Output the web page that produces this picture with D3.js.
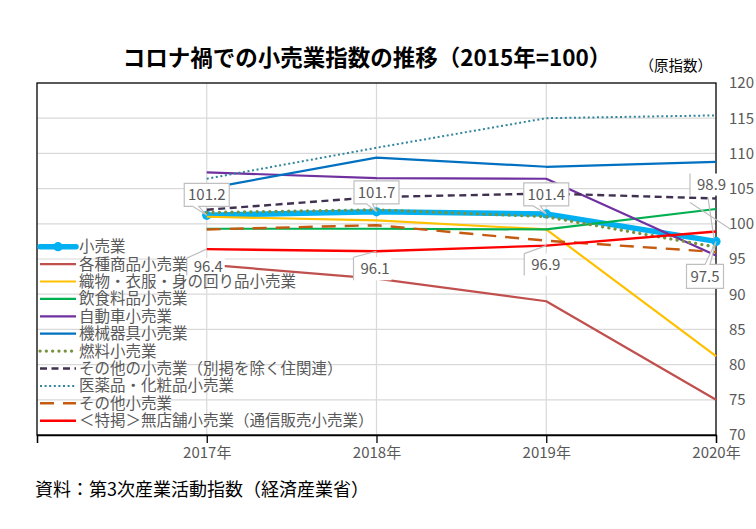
<!DOCTYPE html>
<html><head><meta charset="utf-8">
<script src="https://cdn.jsdelivr.net/npm/d3@7"></script>
<style>
body{margin:0;background:#fff}
svg{display:block}
text{font-family:"Noto Sans CJK JP","Noto Sans",sans-serif}
</style>
</head><body><svg id="c" width="756" height="529"></svg>
<script>
// ---------- data ----------
const years = [2017, 2018, 2019, 2020];
const xTickLabels = ["2017年", "2018年", "2019年", "2020年"];
const yTicks = [70, 75, 80, 85, 90, 95, 100, 105, 110, 115, 120];
const seriesNames = [
  "小売業", "各種商品小売業", "織物・衣服・身の回り品小売業", "飲食料品小売業",
  "自動車小売業", "機械器具小売業", "燃料小売業", "その他の小売業（別掲を除く住関連）",
  "医薬品・化粧品小売業", "その他小売業", "＜特掲＞無店舗小売業（通信販売小売業）"
];
const retail      = [101.2, 101.7, 101.4, 97.5];
const general     = [94.2, 92.2, 89.0, 75.0];
const textile     = [101.0, 100.5, 99.2, 81.2];
const food        = [99.3, 99.3, 99.2, 102.1];
const auto        = [107.3, 106.5, 106.4, 95.5];
const machinery   = [105.0, 109.4, 108.1, 108.8];
const fuel        = [101.6, 102.0, 101.0, 96.7];
const otherHome   = [102.0, 103.8, 104.3, 103.6];
const pharma      = [106.4, 110.8, 115.0, 115.4];
const otherRetail = [99.2, 99.8, 97.6, 96.0];
const nonStore    = [96.4, 96.1, 96.9, 98.9];
const seriesValues = [retail, general, textile, food, auto, machinery, fuel, otherHome, pharma, otherRetail, nonStore];

// ---------- styles ----------
const styles = [
  {c:"#00B0F0", w:5.5, dash:null, cap:"round"},
  {c:"#C0504D", w:2.2, dash:null},
  {c:"#FFC000", w:2.2, dash:null},
  {c:"#00B050", w:2.2, dash:null},
  {c:"#7030A0", w:2.2, dash:null},
  {c:"#0070C0", w:2.2, dash:null},
  {c:"#76923C", w:3.2, dash:"0.1 6.2", cap:"round"},
  {c:"#403151", w:2.4, dash:"7 4.5"},
  {c:"#31859C", w:2, dash:"2 2.6"},
  {c:"#C55A11", w:2.4, dash:"14 9"},
  {c:"#FF0000", w:2.4, dash:null}
];

const svg = d3.select("#c");
const L = 37, R = 716, T = 83, B = 435;
const x = d3.scaleLinear().domain([2016, 2020]).range([L, R]);
const y = d3.scaleLinear().domain([70, 120]).range([B, T]);
const grid = "#d9d9d9", txt = "#595959";

// gridlines
svg.append("g").selectAll("line").data(yTicks.filter(v => v > 70 && v < 120)).join("line")
  .attr("x1", L).attr("x2", R).attr("y1", d => y(d)).attr("y2", d => y(d))
  .attr("stroke", grid).attr("stroke-width", 1.2);
svg.append("g").selectAll("line").data(years.filter(v => v < 2020)).join("line")
  .attr("x1", d => x(d)).attr("x2", d => x(d)).attr("y1", T).attr("y2", B)
  .attr("stroke", grid).attr("stroke-width", 1.2);

// frame
svg.append("rect").attr("x", L).attr("y", T).attr("width", R - L).attr("height", B - T)
  .attr("fill", "none").attr("stroke", "#000").attr("stroke-width", 1.3);

// x axis ticks + labels
const xAxis = d3.axisBottom(x).tickValues([2016, ...years]).tickSize(8).tickFormat(d => {
  const i = years.indexOf(d); return i >= 0 ? xTickLabels[i] : "";
});
const gx = svg.append("g").attr("transform", `translate(0,${B})`).call(xAxis);
gx.select(".domain").attr("stroke", "#000").attr("stroke-width", 1.3);
gx.selectAll(".tick line").attr("stroke", "#000").attr("stroke-width", 1.3);
gx.selectAll(".tick text").attr("fill", txt).attr("font-size", 15).attr("dy", "0.75em")
  .attr("y", 12).style("font-family", '"Noto Sans CJK JP",sans-serif');

// y axis labels (right)
const yAxis = d3.axisRight(y).tickValues(yTicks).tickSize(0).tickPadding(13);
const gy = svg.append("g").attr("transform", `translate(${R},0)`).call(yAxis);
gy.select(".domain").remove();
gy.selectAll(".tick text").attr("fill", txt).attr("font-size", 15)
  .style("font-family", '"Noto Sans CJK JP",sans-serif');

// lines
const line = d3.line().x((d, i) => x(years[i])).y(d => y(d));
seriesValues.forEach((vals, k) => {
  const s = styles[k];
  svg.append("path").datum(vals).attr("d", line).attr("fill", "none")
    .attr("stroke", s.c).attr("stroke-width", s.w)
    .attr("stroke-dasharray", s.dash).attr("stroke-linecap", s.cap || "butt")
    .attr("stroke-linejoin", "round");
  if (k === 0) {
    svg.append("g").selectAll("circle").data(vals).join("circle")
      .attr("cx", (d, i) => x(years[i])).attr("cy", d => y(d)).attr("r", 4.6)
      .attr("fill", s.c);
  }
});

// ---------- callouts ----------
const lblStroke = "#bfbfbf";
// retail (box with wedge)
const retailLayout = [
  {w:45, h:23, top:-32, cx:0, wa:-14, wb:-8},
  {w:45, h:23, top:-31, cx:0, wa:-10, wb:-4},
  {w:45, h:23, top:-31, cx:0, wa:-13, wb:-6},
  {w:37, h:24, top:23, cx:-11, wa:-11, wb:-6}
];
retail.forEach((v, i) => {
  const px = x(years[i]), py = y(v), o = retailLayout[i];
  const x0 = px + o.cx - o.w / 2, x1 = x0 + o.w, y0 = py + o.top, y1 = y0 + o.h;
  let p;
  if (o.top < 0) {
    p = `M${x0},${y0}H${x1}V${y1}H${px + o.wb}L${px},${py}L${px + o.wa},${y1}H${x0}Z`;
  } else {
    p = `M${x0},${y0}H${px + o.wa}L${px},${py}L${px + o.wb},${y0}H${x1}V${y1}H${x0}Z`;
  }
  svg.append("path").attr("d", p).attr("fill", "#fff").attr("stroke", lblStroke).attr("stroke-width", 1.2);
  svg.append("text").attr("x", (x0 + x1) / 2).attr("y", (y0 + y1) / 2).attr("dy", "0.36em")
    .attr("text-anchor", "middle").attr("fill", txt).attr("font-size", 15).text(v.toFixed(1));
});
// non-store (accent bar callouts)
const nsLayout = [
  {bx:-20, top:9, h:17, w:38, lines:[[-20, 9, 0, 0]]},
  {bx:-23, top:6, h:23, w:38, lines:[[-23, 6, 0, 0]]},
  {bx:-22, top:8, h:22, w:38, lines:[[-22, 8, 0, 0]]},
  {bx:-26, top:-58, h:22, w:34, lines:[[-26, -29, 15, -2], [-8, -34, -2, 7]]}
];
nonStore.forEach((v, i) => {
  const px = x(years[i]), py = y(v), o = nsLayout[i];
  const bx = px + o.bx, by = py + o.top;
  svg.append("rect").attr("x", bx).attr("y", by).attr("width", o.w).attr("height", o.h).attr("fill", "#fff");
  svg.append("line").attr("x1", bx).attr("x2", bx).attr("y1", by).attr("y2", by + o.h)
    .attr("stroke", lblStroke).attr("stroke-width", 1.2);
  o.lines.forEach(l => {
    svg.append("line").attr("x1", px + l[0]).attr("y1", py + l[1]).attr("x2", px + l[2]).attr("y2", py + l[3])
      .attr("stroke", lblStroke).attr("stroke-width", 1.2);
  });
  svg.append("text").attr("x", bx + 7).attr("y", by + o.h / 2).attr("dy", "0.36em")
    .attr("fill", txt).attr("font-size", 15).text(v.toFixed(1));
});

// ---------- legend ----------
const lg = svg.append("g");
seriesNames.forEach((name, k) => {
  const s = styles[k], ry = 246.7 + k * 17.4;
  lg.append("line").attr("x1", 40).attr("x2", 76).attr("y1", ry).attr("y2", ry)
    .attr("stroke", s.c).attr("stroke-width", s.w).attr("stroke-dasharray", s.dash)
    .attr("stroke-linecap", s.cap || "butt");
  if (k === 0) lg.append("circle").attr("cx", 58).attr("cy", ry).attr("r", 4.6).attr("fill", s.c);
  lg.append("text").attr("x", 79).attr("y", ry).attr("dy", "0.36em")
    .attr("fill", txt).attr("font-size", 15.5).text(name);
});

// ---------- titles ----------
svg.append("text").attr("x", 367).attr("y", 58).attr("dy", "0.36em").attr("text-anchor", "middle")
  .attr("font-size", 22.5).attr("font-weight", "bold").attr("fill", "#000")
  .text("コロナ禍での小売業指数の推移（2015年=100）");
svg.append("text").attr("x", 712).attr("y", 66).attr("dy", "0.36em").attr("text-anchor", "end")
  .attr("font-size", 14.5).attr("fill", "#000").text("（原指数）");
svg.append("text").attr("x", 35).attr("y", 490).attr("dy", "0.36em")
  .attr("font-size", 18).attr("fill", "#000").text("資料：第3次産業活動指数（経済産業省）");
</script>
</body></html>
